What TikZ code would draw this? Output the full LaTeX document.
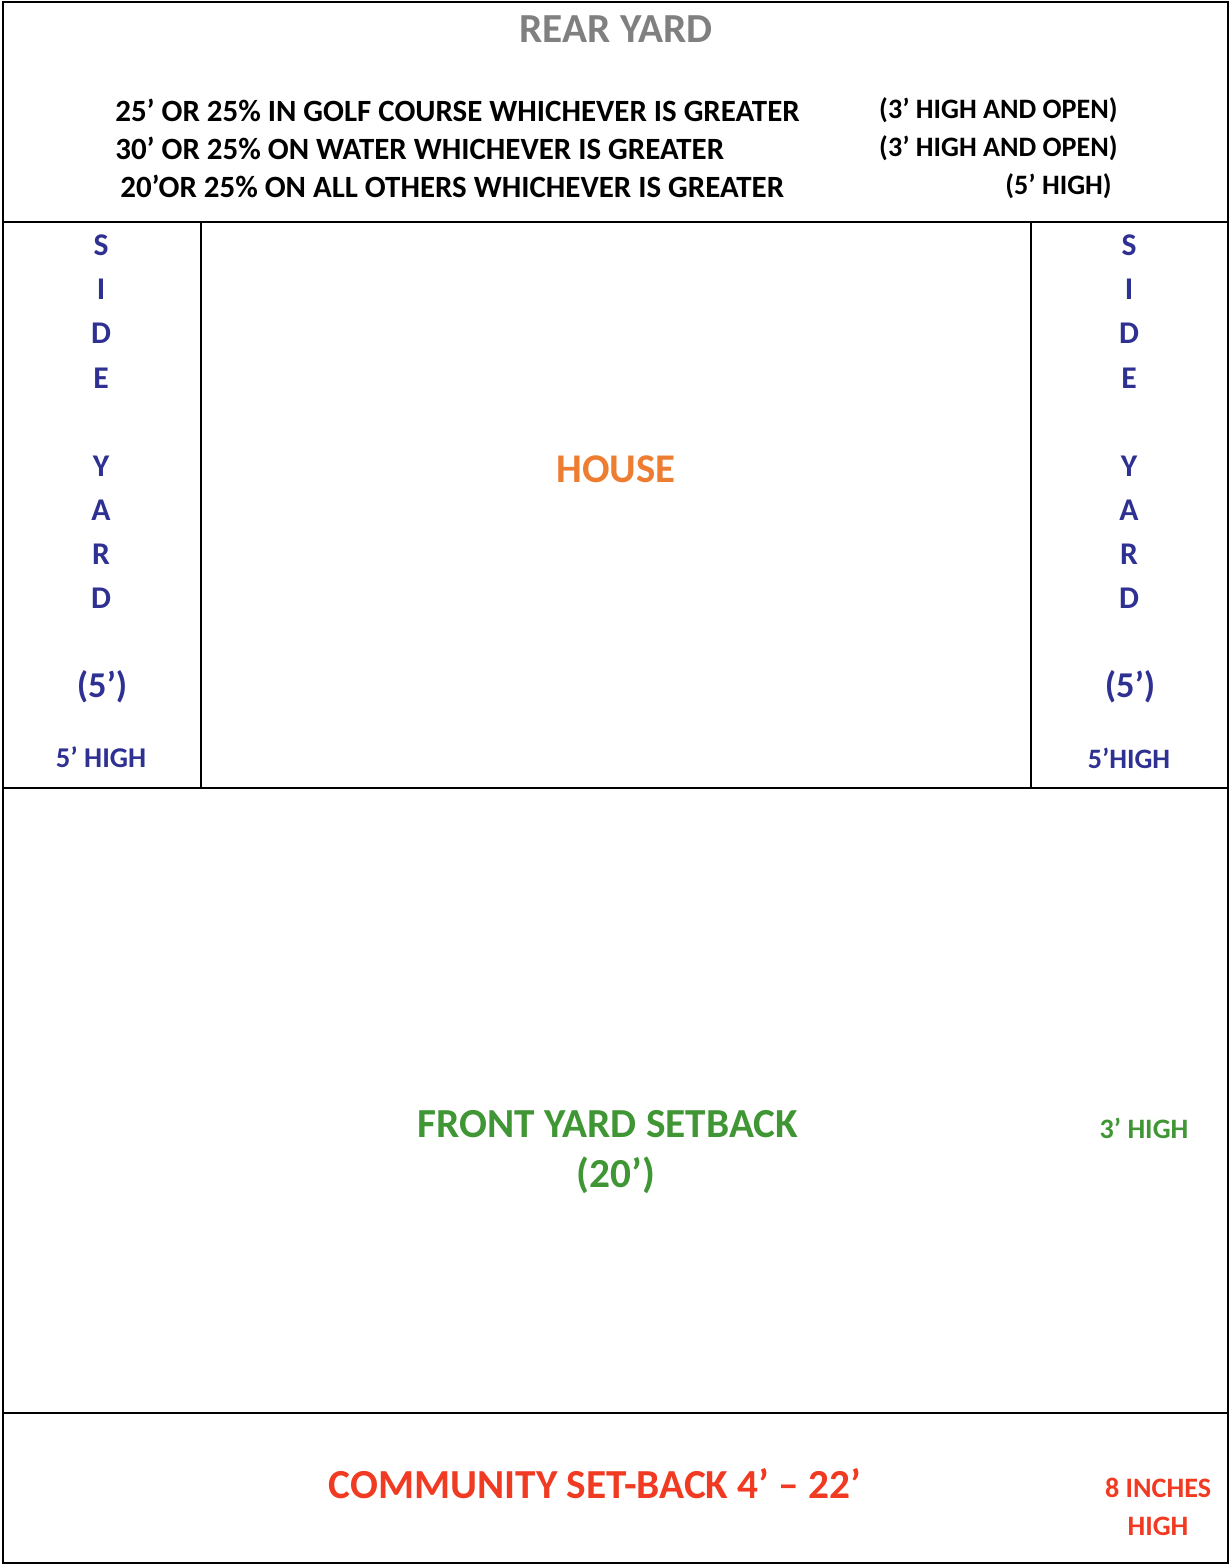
\documentclass[tikz,border=0pt]{standalone}
\usepackage{fontspec}
\setmainfont{Carlito}
\usepackage{tikz}
\definecolor{reargrey}{RGB}{128,128,128}
\definecolor{sideblue}{RGB}{46,49,146}
\definecolor{houseorange}{RGB}{237,125,49}
\definecolor{frontgreen}{RGB}{64,150,52}
\definecolor{commred}{RGB}{240,58,34}
\begin{document}
\begin{tikzpicture}[x=0.02cm,y=-0.02cm]
		\tikzset{txt/.style={inner sep=0pt,font=\bfseries\fontsize{16}{19}\selectfont},
			big/.style={txt,font=\bfseries\fontsize{23.5}{27}\selectfont},
			side/.style={txt,sideblue,font=\bfseries\fontsize{18}{21}\selectfont}}
		\useasboundingbox (0,0) rectangle (1230,1568);

		% lot lines
		\draw[line width=1pt] (3,2) rectangle (1228,1563);
		\draw[line width=1pt] (3,222) -- (1228,222);
		\draw[line width=1pt] (3,788) -- (1228,788);
		\draw[line width=1pt] (3,1413) -- (1228,1413);
		\draw[line width=0.8pt] (201,222) -- (201,788);
		\draw[line width=0.8pt] (1031,222) -- (1031,788);

		% rear yard
		\node (rear) at (616,29) [big,reargrey] {REAR YARD};
		\node (r1) at (115,110) [txt,anchor=west,font=\bfseries\fontsize{17.6}{21}\selectfont] {25’ OR 25\% IN GOLF COURSE WHICHEVER IS GREATER};
		\node (r2) at (115,148) [txt,anchor=west,font=\bfseries\fontsize{17.6}{21}\selectfont] {30’ OR 25\% ON WATER WHICHEVER IS GREATER};
		\node (r3) at (120,186) [txt,anchor=west,font=\bfseries\fontsize{17.6}{21}\selectfont] {20’OR 25\% ON ALL OTHERS WHICHEVER IS GREATER};
		\node (h1) at (1118,110) [txt,anchor=east] {(3’ HIGH AND OPEN)};
		\node (h2) at (1118,148) [txt,anchor=east] {(3’ HIGH AND OPEN)};
		\node (h3) at (1112,186) [txt,anchor=east] {(5’ HIGH)};

		% side yards
		\foreach \l/\y in {S/245,I/289,D/333,E/378,Y/466,A/510,R/554,D/598}{
			\node (sl\y) at (101,\y) [side] {\l};
			\node (sr\y) at (1129,\y) [side] {\l};
		}
		\node (sl5) at (102,687) [side,font=\bfseries\fontsize{20.7}{24}\selectfont] {(5’)};
		\node (sr5) at (1130,687) [side,font=\bfseries\fontsize{20.7}{24}\selectfont] {(5’)};
		\node (slh) at (101,757) [side,font=\bfseries\fontsize{16.3}{19}\selectfont] {5’ HIGH};
		\node (srh) at (1129,758) [side,font=\bfseries\fontsize{16}{19}\selectfont] {5’HIGH};

		% house
		\node (house) at (616,469) [big,houseorange,font=\bfseries\fontsize{23.2}{27}\selectfont] {HOUSE};

		% front yard
		\node (front) at (608,1124) [big,frontgreen] {FRONT YARD SETBACK};
		\node (front20) at (616,1175) [big,frontgreen] {(20’)};
		\node (fronth) at (1144,1128) [txt,frontgreen] {3’ HIGH};

		% community
		\node (comm) at (595,1484) [big,commred] {COMMUNITY SET-BACK 4’ – 22’};
		\node (commh1) at (1158,1488) [txt,commred] {8 INCHES};
		\node (commh2) at (1158,1526) [txt,commred] {HIGH};
	\end{tikzpicture}
\end{document}
